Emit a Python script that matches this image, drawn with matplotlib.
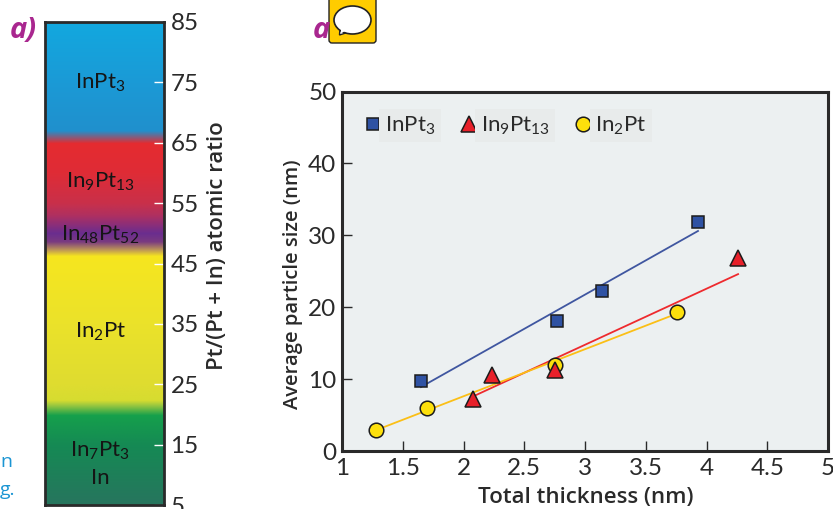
import matplotlib
matplotlib.use("Agg")
import matplotlib.pyplot as plt
import numpy as np
from matplotlib.colors import LinearSegmentedColormap
from matplotlib.patches import Ellipse, FancyBboxPatch, Polygon

plt.rcParams["font.family"] = ["Open Sans", "DejaVu Sans"]
plt.rcParams["mathtext.fontset"] = "custom"
plt.rcParams["mathtext.rm"] = "Lato"
plt.rcParams["mathtext.default"] = "rm"

W, H = 833, 509
thin = dict(family="Lato")

# colour bar data
ratio_ticks = [85, 75, 65, 55, 45, 35, 25, 15, 5]
grad_values = [85, 75, 67.0, 64.9, 60, 55, 53, 50, 48.6, 47.2, 46.2, 35, 25, 22.3, 21.5, 19.8, 15, 5]
grad_colors = ["#12a8df", "#1b9ad6", "#2090cd", "#e52b30", "#df2c36", "#c9304a", "#b03060", "#6a2d8f",
               "#7a3a80", "#c09a55", "#f6e61f", "#ebe22a", "#dfdc30", "#d6dc30", "#9cc83f", "#15a04c",
               "#158a54", "#27755e"]
phase_names = ["InPt$_3$", "In$_9$Pt$_{13}$", "In$_{48}$Pt$_{52}$", "In$_2$Pt", "In$_7$Pt$_3$", "In"]
phase_ratios = [75.0, 58.6, 49.8, 33.6, 14.0, 9.5]

# particle size data
inpt3_x = [1.65, 2.77, 3.14, 3.93]
inpt3_y = [9.7, 18.1, 22.2, 31.8]
inpt3_fit_x = [1.65, 3.93]
inpt3_fit_y = [8.9, 30.6]
in9pt13_x = [2.08, 2.235, 2.755, 4.26]
in9pt13_y = [7.3, 10.6, 11.2, 26.9]
in9pt13_fit_x = [2.08, 4.26]
in9pt13_fit_y = [7.6, 24.6]
in2pt_x = [1.28, 1.70, 2.755, 3.755]
in2pt_y = [2.9, 6.0, 12.0, 19.4]
in2pt_fit_x = [1.28, 3.755]
in2pt_fit_y = [2.9, 19.1]
x_ticks = [1, 1.5, 2, 2.5, 3, 3.5, 4, 4.5, 5]
x_labels = ["1", "1.5", "2", "2.5", "3", "3.5", "4", "4.5", "5"]
y_ticks = [0, 10, 20, 30, 40, 50]


def px_axes(left, top, right, bottom):
    return fig.add_axes([left / W, 1 - bottom / H, (right - left) / W, (bottom - top) / H])


fig = plt.figure(figsize=(W / 100, H / 100), dpi=100, facecolor="white")
dark = "#2a2a2a"

# ------------------------------------------------------------------------------
# colour bar
# ------------------------------------------------------------------------------
ax1 = px_axes(44.5, 22, 163.5, 505)
pos = (85 - np.array(grad_values)) / 80
cmap = LinearSegmentedColormap.from_list("phases", list(zip(pos, grad_colors)), N=1024)
ax1.imshow(np.linspace(0, 1, 1024)[:, None], cmap=cmap, aspect="auto", extent=[0, 1, 5, 85], vmin=0, vmax=1)
ax1.set_xticks([])
ax1.yaxis.tick_right()
ax1.set_yticks(ratio_ticks)
ax1.tick_params(axis="y", direction="in", length=7, width=1, color="white", labelsize=17.5, labelcolor=dark, pad=5)
for label in ax1.get_yticklabels():
    label.set(**thin)
for s in ax1.spines.values():
    s.set_linewidth(2)
    s.set_color(dark)
for name, val in zip(phase_names, phase_ratios):
    ax1.text(0.47, val, name, ha="center", va="center", fontsize=16, color="#151515", **thin)
ax1.set_ylim(5, 85)
fig.text(217 / W, 1 - 246 / H, "Pt/(Pt + In) atomic ratio", rotation=90, ha="center", va="center",
         fontsize=16, fontweight="semibold", color=dark)

# ------------------------------------------------------------------------------
# scatter panel
# ------------------------------------------------------------------------------
ax2 = px_axes(342, 91.5, 828, 451)
ax2.set_facecolor("#ecf0f1")
ax2.plot(inpt3_fit_x, inpt3_fit_y, color="#3f56a0", lw=1.3, zorder=2)
ax2.plot(in9pt13_fit_x, in9pt13_fit_y, color="#ee2a2e", lw=1.3, zorder=2)
ax2.plot(in2pt_fit_x, in2pt_fit_y, color="#fbbf16", lw=1.3, zorder=2.5)
marker_style = dict(linestyle="none", markeredgecolor="#1c1c1c", markeredgewidth=1.1, clip_on=False)
h1, = ax2.plot(inpt3_x, inpt3_y, marker="s", markersize=9, markerfacecolor="#2f52a3", zorder=3, **marker_style)
h3, = ax2.plot(in2pt_x, in2pt_y, marker="o", markersize=10.5, markerfacecolor="#fde00c", zorder=3, **marker_style)
h2, = ax2.plot(in9pt13_x, in9pt13_y, marker="^", markersize=12, markerfacecolor="#e8202a", zorder=4, **marker_style)
ax2.set_xlim(1, 5)
ax2.set_ylim(0, 50)
ax2.set_xticks(x_ticks)
ax2.set_xticklabels(x_labels)
ax2.set_yticks(y_ticks)
ax2.tick_params(axis="both", direction="in", length=7.5, width=1, color=dark, labelsize=17.5, labelcolor=dark)
ax2.tick_params(axis="x", pad=5)
ax2.tick_params(axis="y", pad=4)
for label in ax2.get_xticklabels() + ax2.get_yticklabels():
    label.set(**thin)
for s in ax2.spines.values():
    s.set_linewidth(2.2)
    s.set_color(dark)
ax2.set_xlabel("Total thickness (nm)", fontsize=16, fontweight="semibold", color=dark)
ax2.set_ylabel("Average particle size (nm)", fontsize=14.5, fontweight="semibold", color=dark)
ax2.xaxis.set_label_coords(0.5 + 1 / 486, -0.1)
ax2.yaxis.set_label_coords(-0.08, 0.5 - 13 / 360)

leg = ax2.legend([h1, h2, h3], ["InPt$_3$", "In$_9$Pt$_{13}$", "In$_2$Pt"], ncol=3, loc="upper left",
                 bbox_to_anchor=(24 / 486, 1 - 23 / 360), frameon=False, handlelength=0.6,
                 handletextpad=0.25, columnspacing=1.2, borderpad=0, borderaxespad=0, labelcolor=dark,
                 prop=dict(family="Lato", size=16))
for t in leg.get_texts():
    t.set_bbox(dict(facecolor="#e8ebeb", edgecolor="none", pad=4))

# ------------------------------------------------------------------------------
# page furniture: panel letters, cut-off caption, comment icon
# ------------------------------------------------------------------------------
ov = fig.add_axes([0, 0, 1, 1], zorder=10)
ov.set_xlim(0, W)
ov.set_ylim(H, 0)
ov.axis("off")
magenta = "#a9278f"
ov.text(10, 30, "a)", fontsize=21, fontweight="bold", style="italic", color=magenta, ha="left", va="center")
ov.text(313, 30, "a", fontsize=21, fontweight="bold", style="italic", color=magenta, ha="left", va="center")
ov.text(0, 462, "n", fontsize=14, color="#1b95d3", ha="left", va="center")
ov.text(0, 490, "g.", fontsize=14, color="#1b95d3", ha="left", va="center")
ov.add_patch(FancyBboxPatch((329, -6), 47, 49, boxstyle="round,pad=0,rounding_size=3",
                            facecolor="#ffcc00", edgecolor="#222222", linewidth=1))
ov.add_patch(Polygon([[340, 27], [339.5, 35], [352, 31]], closed=True, facecolor="white",
                     edgecolor="#222222", linewidth=1))
ov.add_patch(Ellipse((352.5, 20), 37, 28, facecolor="white", edgecolor="#222222", linewidth=1.2))
ov.add_patch(Polygon([[341, 26], [341, 33], [350, 29]], closed=True, facecolor="white", edgecolor="none"))

fig.savefig("out.png", dpi=100)
